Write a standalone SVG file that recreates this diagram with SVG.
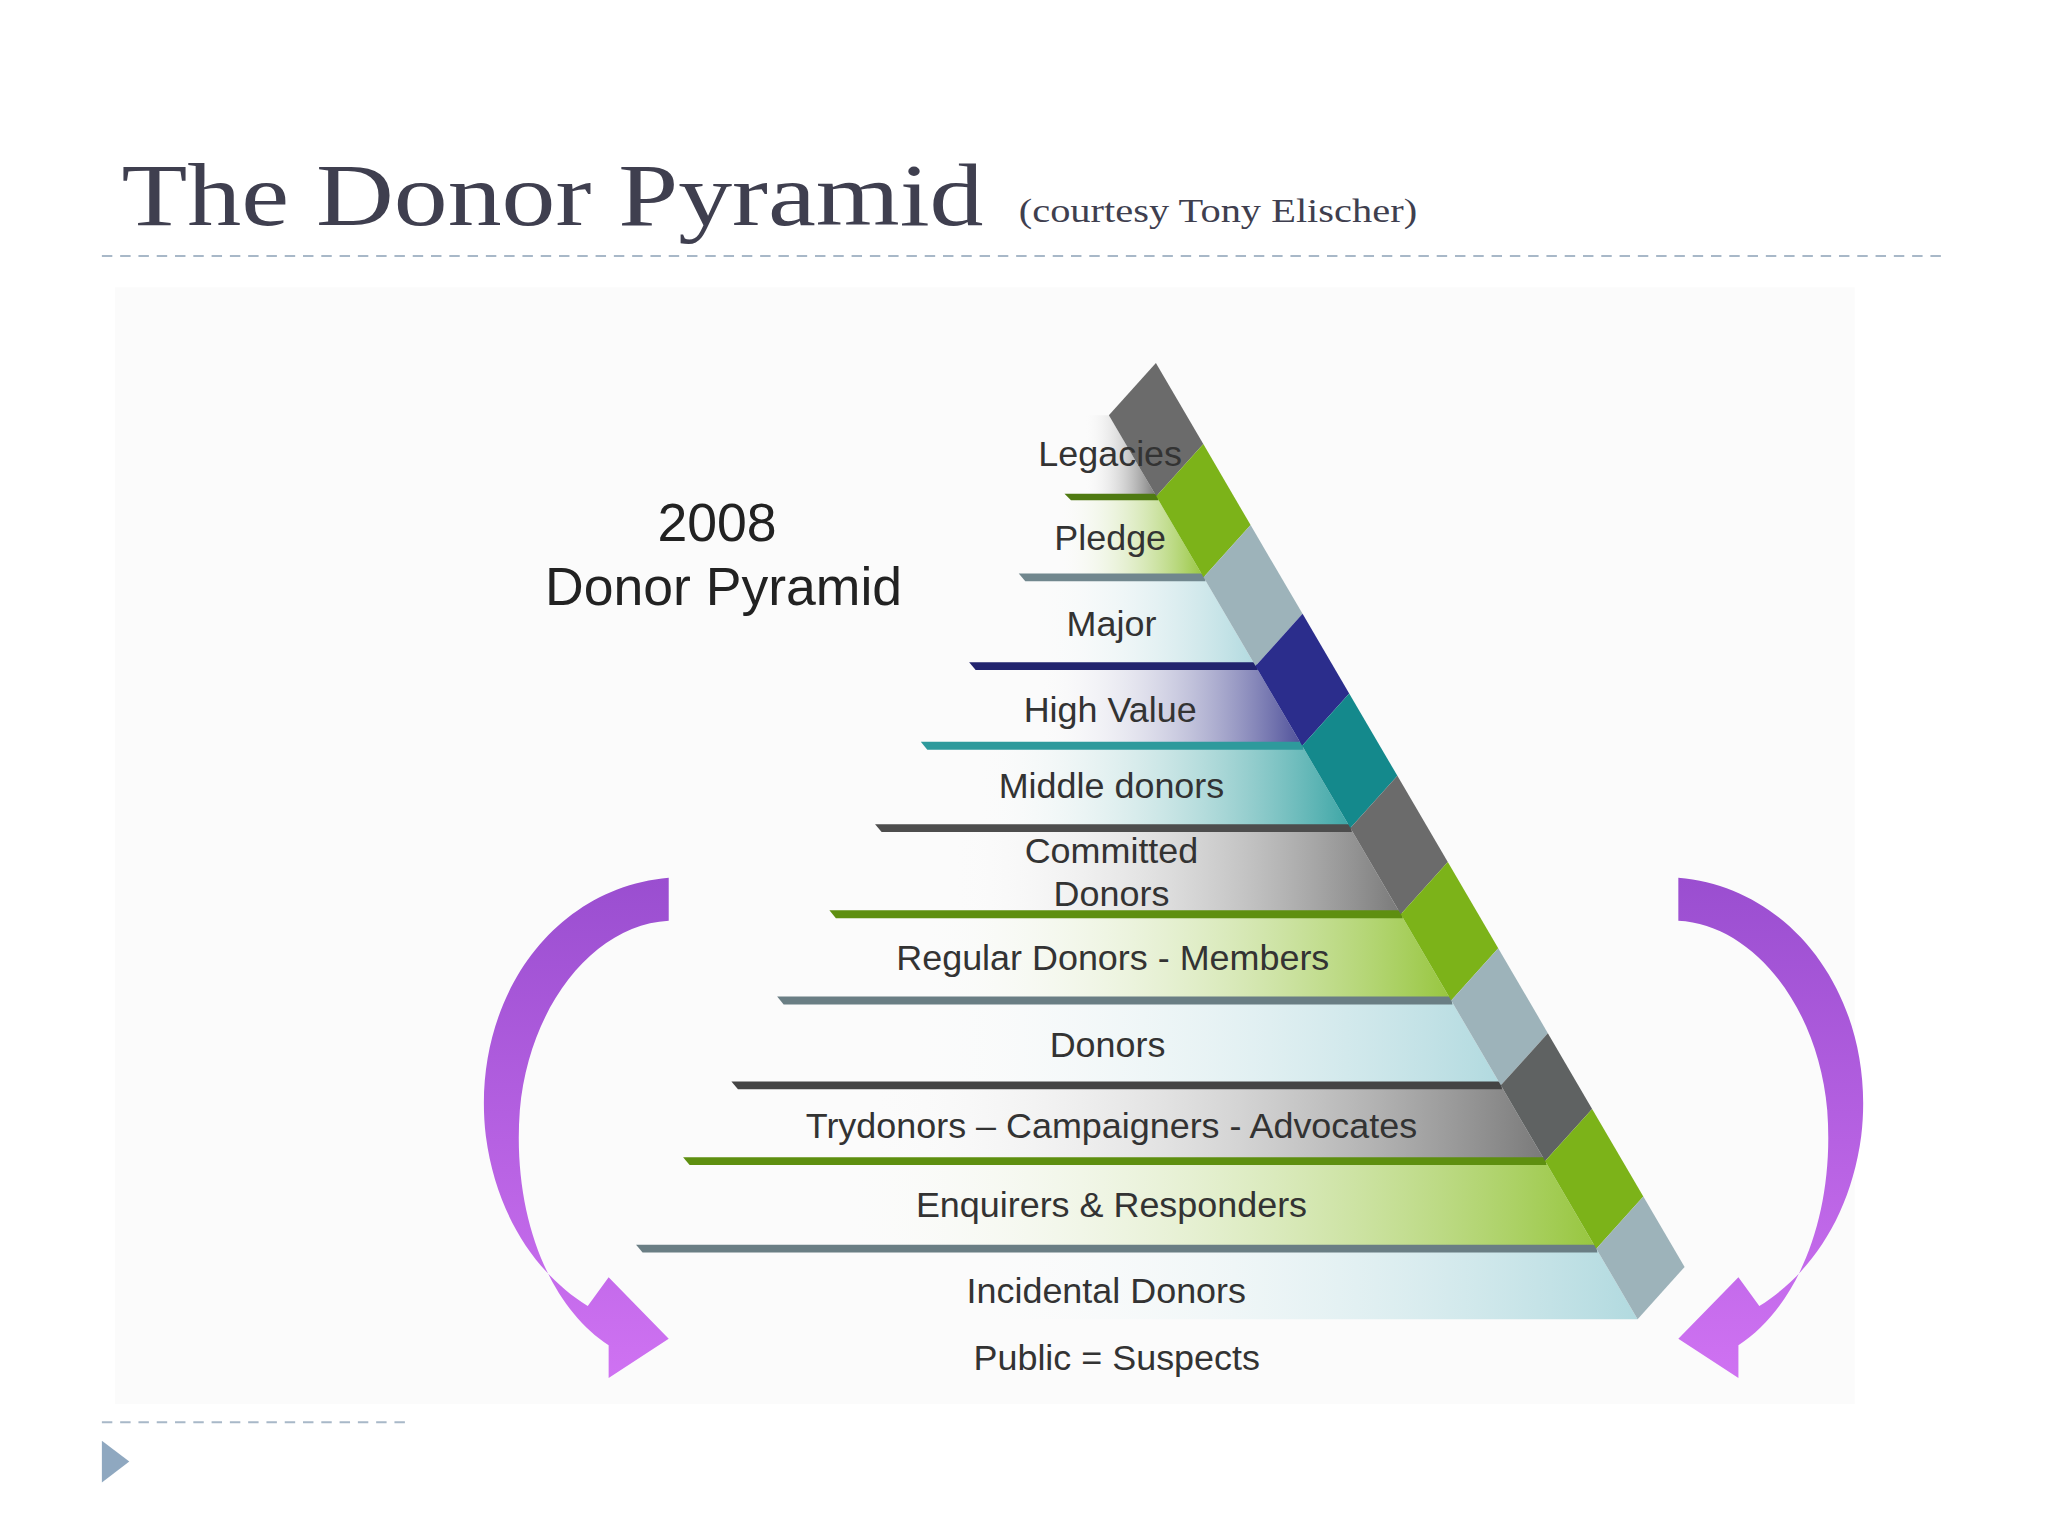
<svg xmlns="http://www.w3.org/2000/svg" width="2048" height="1536" viewBox="0 0 2048 1536">
<defs>
<style>
.lb{font-family:"Liberation Sans",Arial,sans-serif;font-size:27.5px;fill:#333;text-anchor:middle}
.ttl{font-family:"Liberation Serif","DejaVu Serif",serif;fill:#3f3f4f}
</style>
<linearGradient id="gGray" x1="0" x2="1" y1="0" y2="0"><stop offset="0.2" stop-color="#ffffff" stop-opacity="0"/><stop offset="1" stop-color="#6b6b6b" stop-opacity="0.9"/></linearGradient>
<linearGradient id="gGreen" x1="0" x2="1" y1="0" y2="0"><stop offset="0.2" stop-color="#ffffff" stop-opacity="0"/><stop offset="1" stop-color="#8cc02a" stop-opacity="0.9"/></linearGradient>
<linearGradient id="gBlue" x1="0" x2="1" y1="0" y2="0"><stop offset="0.2" stop-color="#ffffff" stop-opacity="0"/><stop offset="1" stop-color="#a9d6dc" stop-opacity="0.9"/></linearGradient>
<linearGradient id="gNavy" x1="0" x2="1" y1="0" y2="0"><stop offset="0.3" stop-color="#ffffff" stop-opacity="0"/><stop offset="1" stop-color="#3b3d8f" stop-opacity="0.9"/></linearGradient>
<linearGradient id="gTeal" x1="0" x2="1" y1="0" y2="0"><stop offset="0.2" stop-color="#ffffff" stop-opacity="0"/><stop offset="1" stop-color="#279c9c" stop-opacity="0.9"/></linearGradient>
<linearGradient id="gArr" x1="0" x2="0" y1="0" y2="1"><stop offset="0" stop-color="#9a4ed0"/><stop offset="1" stop-color="#cf72f2"/></linearGradient>
<path id="arrow" d="M512,672 C420,680 360,770 372,870 C380,930 410,975 450,1000 L466,978 L512,1025 L466,1055 L466,1030 C420,1000 392,930 398,850 C405,770 455,708 512,705 Z" fill="url(#gArr)"/>
</defs>
<rect width="2048" height="1536" fill="#ffffff"/>
<g transform="scale(1.3061)">
<rect x="88" y="220" width="1332" height="855" fill="#fbfbfb"/>
<g id="title">
<text class="ttl" x="93" y="172" font-size="68" textLength="660" lengthAdjust="spacingAndGlyphs">The Donor Pyramid</text>
<text class="ttl" x="780" y="170" font-size="25" textLength="305" lengthAdjust="spacingAndGlyphs">(courtesy Tony Elischer)</text>
<line x1="78" y1="196" x2="1490" y2="196" stroke="#a8b8c8" stroke-width="1.5" stroke-dasharray="8,6"/>
<line x1="78" y1="1089" x2="310" y2="1089" stroke="#a8b8c8" stroke-width="1.5" stroke-dasharray="8,6"/>
<polygon points="78,1103 99,1119 78,1135" fill="#8fa8c0"/>
</g>
<g id="heading" font-family="Liberation Sans,Arial,sans-serif" font-size="41" fill="#222" text-anchor="middle">
<text x="549" y="414">2008</text>
<text x="554" y="463">Donor Pyramid</text>
</g>
<g id="bands">
<polygon points="815,318 849,318 885.3,380 815,380" fill="url(#gGray)"/>
<polygon points="780,380 885.3,380 921.5,442 780,442" fill="url(#gGreen)"/>
<polygon points="742,442 921.5,442 961.3,510 742,510" fill="url(#gBlue)"/>
<polygon points="705,510 961.3,510 997,571 705,571" fill="url(#gNavy)"/>
<polygon points="670,571 997,571 1033.9,634 670,634" fill="url(#gTeal)"/>
<polygon points="635,634 1033.9,634 1072.5,700 635,700" fill="url(#gGray)"/>
<polygon points="595,700 1072.5,700 1111.1,766 595,766" fill="url(#gGreen)"/>
<polygon points="560,766 1111.1,766 1149.1,831 560,831" fill="url(#gBlue)"/>
<polygon points="523,831 1149.1,831 1183,889 523,889" fill="url(#gGray)"/>
<polygon points="487,889 1183,889 1222.2,956 487,956" fill="url(#gGreen)"/>
<polygon points="590,956 1222.2,956 1253.8,1010 590,1010" fill="url(#gBlue)"/>
</g>
<g id="lines">
<polygon points="815,378 886,378 887,383 820,383" fill="#4f7a12"/>
<polygon points="780,439 922,439 923,445 785,445" fill="#71878e"/>
<polygon points="742,507 962,507 963,513 747,513" fill="#22246e"/>
<polygon points="705,568 997,568 998,574 710,574" fill="#2e9a9c"/>
<polygon points="670,631 1034,631 1035,637 675,637" fill="#4d4d4d"/>
<polygon points="635,697 1073,697 1074,703 640,703" fill="#5e8f10"/>
<polygon points="595,763 1111,763 1112,769 600,769" fill="#6a7e84"/>
<polygon points="560,828 1149,828 1150,834 565,834" fill="#444"/>
<polygon points="523,886 1183,886 1184,892 528,892" fill="#5e8f10"/>
<polygon points="487,953 1222,953 1223,959 492,959" fill="#6a7e84"/>
</g>
<g id="blocks">
<polygon points="885,278 921.3,340 885.3,380 849,318" fill="#6b6b6b"/>
<polygon points="921.3,340 957.5,402 921.5,442 885.3,380" fill="#7cb319"/>
<polygon points="957.5,402 997.3,470 961.3,510 921.5,442" fill="#9db3ba"/>
<polygon points="997.3,470 1033,531 997,571 961.3,510" fill="#2b2d8c"/>
<polygon points="1033,531 1069.9,594 1033.9,634 997,571" fill="#14898c"/>
<polygon points="1069.9,594 1108.5,660 1072.5,700 1033.9,634" fill="#6b6b6b"/>
<polygon points="1108.5,660 1147.1,726 1111.1,766 1072.5,700" fill="#7cb319"/>
<polygon points="1147.1,726 1185.1,791 1149.1,831 1111.1,766" fill="#9db3ba"/>
<polygon points="1185.1,791 1219,849 1183,889 1149.1,831" fill="#5f6262"/>
<polygon points="1219,849 1258.2,916 1222.2,956 1183,889" fill="#7cb319"/>
<polygon points="1258.2,916 1289.8,970 1253.8,1010 1222.2,956" fill="#9db3ba"/>
</g>
<g id="labels">
<text class="lb" x="850" y="357">Legacies</text>
<text class="lb" x="850" y="421">Pledge</text>
<text class="lb" x="851" y="487">Major</text>
<text class="lb" x="850" y="553">High Value</text>
<text class="lb" x="851" y="611">Middle donors</text>
<text class="lb" x="851" y="661">Committed</text>
<text class="lb" x="851" y="694">Donors</text>
<text class="lb" x="852" y="743">Regular Donors - Members</text>
<text class="lb" x="848" y="809">Donors</text>
<text class="lb" x="851" y="871">Trydonors – Campaigners - Advocates</text>
<text class="lb" x="851" y="932">Enquirers &amp; Responders</text>
<text class="lb" x="847" y="998">Incidental Donors</text>
<text class="lb" x="855" y="1049" font-size="30">Public = Suspects</text>
</g>
<g id="connectors">
<use href="#arrow"/>
<use href="#arrow" transform="translate(1797,0) scale(-1,1)"/>
</g>
</g>
</svg>
